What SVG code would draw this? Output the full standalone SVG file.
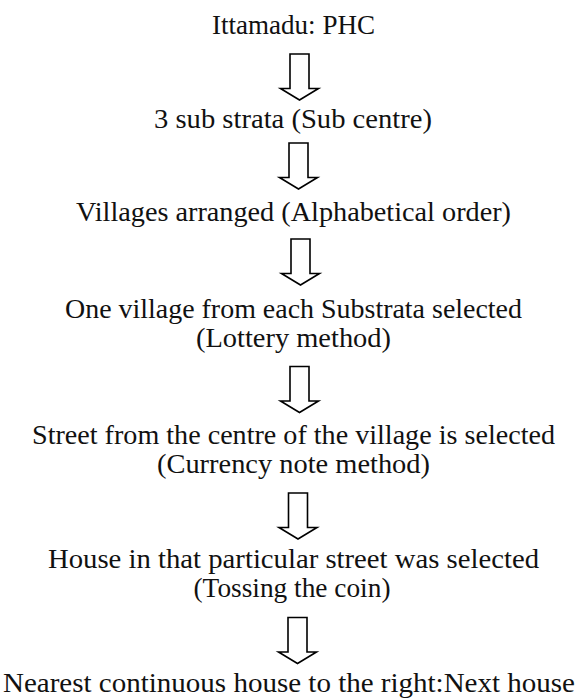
<svg xmlns="http://www.w3.org/2000/svg" width="577" height="700" viewBox="0 0 577 700">
<style>
text{font-family:"Liberation Serif","Times New Roman",serif;font-size:28px;fill:#111;text-anchor:middle}
.arr{fill:#fff;stroke:#000;stroke-width:1.6;stroke-linejoin:miter}
</style>
<defs>
<path id="blk" d="M-9.5 0 H9.5 V34.5 H19 L0 46 L-19 34.5 H-9.5 Z"/>
</defs>
<rect width="577" height="700" fill="#fff"/>
<g id="n1"><text x="293.5" y="34" textLength="163" lengthAdjust="spacingAndGlyphs">Ittamadu: PHC</text></g>
<g id="n2"><text x="293" y="128" textLength="278" lengthAdjust="spacingAndGlyphs">3 sub strata (Sub centre)</text></g>
<g id="n3"><text x="293.5" y="221" textLength="435" lengthAdjust="spacingAndGlyphs">Villages arranged (Alphabetical order)</text></g>
<g id="n4"><text x="293.5" y="318" textLength="457" lengthAdjust="spacingAndGlyphs">One village from each Substrata selected</text><text x="293.5" y="347" textLength="195" lengthAdjust="spacingAndGlyphs">(Lottery method)</text></g>
<g id="n5"><text x="293.5" y="444" textLength="523" lengthAdjust="spacingAndGlyphs">Street from the centre of the village is selected</text><text x="293.5" y="473" textLength="273" lengthAdjust="spacingAndGlyphs">(Currency note method)</text></g>
<g id="n6"><text x="293.5" y="568" textLength="491" lengthAdjust="spacingAndGlyphs">House in that particular street was selected</text><text x="292" y="597" textLength="197" lengthAdjust="spacingAndGlyphs">(Tossing the coin)</text></g>
<g id="n7"><text x="289" y="692" textLength="572" lengthAdjust="spacingAndGlyphs">Nearest continuous house to the right:Next house</text></g>
<g id="connectors">
<use href="#blk" class="arr" transform="translate(299.5,54)"/>
<use href="#blk" class="arr" transform="translate(298.5,143)"/>
<use href="#blk" class="arr" transform="translate(300.5,239)"/>
<use href="#blk" class="arr" transform="translate(299.5,366.5)"/>
<use href="#blk" class="arr" transform="translate(298,493)"/>
<use href="#blk" class="arr" transform="translate(297.5,617.5)"/>
</g>
</svg>
